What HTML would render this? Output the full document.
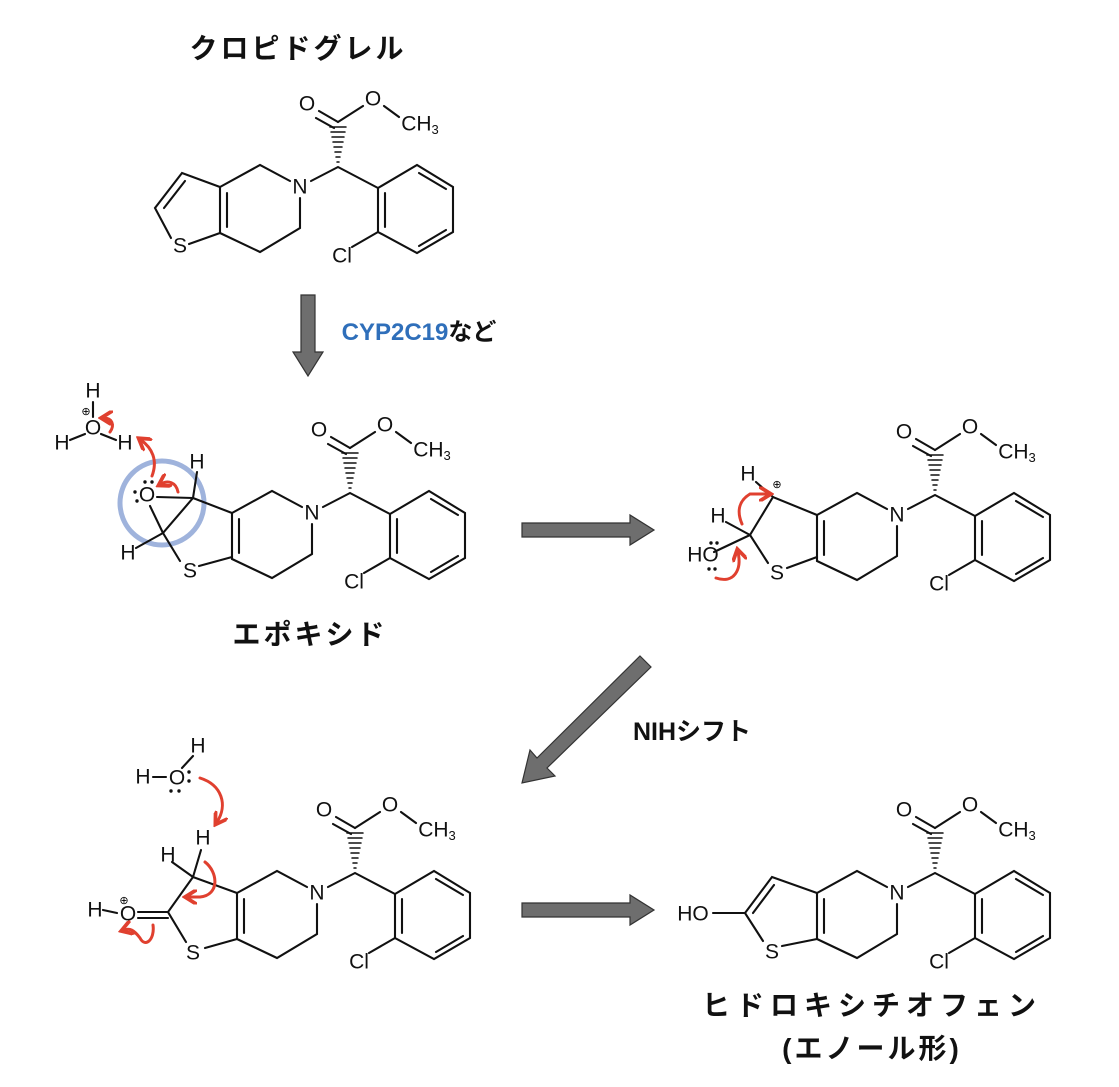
<!DOCTYPE html>
<html><head><meta charset="utf-8"><style>
html,body{margin:0;padding:0;background:#fff}
svg{display:block}
.b{stroke:#111;stroke-width:2.1;fill:none;stroke-linecap:round}
.t{font-family:"Liberation Sans",sans-serif;font-size:21px;fill:#111;text-anchor:middle;dominant-baseline:central}
.j{font-family:"Liberation Sans","Noto Sans CJK JP",sans-serif;font-weight:bold;font-size:28px;fill:#111;text-anchor:middle}
.r{stroke:#e0402f;stroke-width:3;fill:none;stroke-linecap:round}
.a{fill:#6e6e6e;stroke:#333;stroke-width:1.2}
</style></head><body>
<svg width="1119" height="1087" viewBox="0 0 1119 1087" xmlns="http://www.w3.org/2000/svg">
<defs>
<marker id="rh" viewBox="0 0 10 10" refX="6" refY="5" markerWidth="5" markerHeight="5" orient="auto"><path d="M0,0 L8,5 L0,10" fill="none" stroke="#e0402f" stroke-width="2.5"/></marker>
</defs>

<text class="j" x="298" y="58" style="letter-spacing:3px">クロピドグレル</text>
<text class="j" x="419" y="340" style="font-size:24px"><tspan fill="#2f6fba">CYP2C19</tspan>など</text>
<text class="j" x="310" y="644" style="letter-spacing:3px">エポキシド</text>
<text class="j" x="692" y="740" style="font-size:25px">NIHシフト</text>
<text class="j" x="872" y="1015" style="letter-spacing:6px">ヒドロキシチオフェン</text>
<text class="j" x="872" y="1058" style="letter-spacing:3px">(エノール形)</text>

<path class="a" d="M301,295 L315,295 L315,352 L323,352 L308,376 L293,352 L301,352 Z"/>
<path class="a" d="M522,523 L630,523 L630,515 L654,530 L630,545 L630,537 L522,537 Z"/>
<path class="a" d="M522,903 L630,903 L630,895 L654,910 L630,925 L630,917 L522,917 Z"/>
<path class="a" d="M640,656 L651,667 L547,768 L555,776 L522,783 L530,750 L537,758 Z"/>

<g>
<g class="b">
<path d="M220,187 L260,165 L290,181"/>
<path d="M300,198 L300,228 L260,252 L220,233"/>
<path d="M220,187 L220,233 M227,193 L227,227"/>
<path d="M311,181 L338,167 L378,188"/>
<path d="M338,122 L319,111 M334,128 L316,118"/>
<path d="M338,122 L363,106 M384,106 L399,117"/>
<path d="M378,188 L417,165 L453,187 L453,232 L417,253 L378,232 Z"/>
<path d="M385,193 L385,227 M419,173 L446,189 M446,230 L419,246"/>
<path d="M378,232 L352,247"/>
<path d="M337,162h2M336,157h4M335,152h6M334,147h8M333,142h10M332,137h12M331,132h14M330,127h16" stroke-width="1.5"/>
</g>
<text class="t" x="300" y="187">N</text>
<text class="t" x="307" y="104">O</text>
<text class="t" x="373" y="99">O</text>
<text class="t" x="420" y="124">CH<tspan font-size="13" dy="5">3</tspan></text>
<text class="t" x="342" y="256">Cl</text>
</g>
<g transform="translate(12,326)">
<g class="b">
<path d="M220,187 L260,165 L290,181"/><path d="M300,198 L300,228 L260,252 L220,233"/>
<path d="M220,187 L220,233 M227,193 L227,227"/><path d="M311,181 L338,167 L378,188"/>
<path d="M338,122 L319,111 M334,128 L316,118"/><path d="M338,122 L363,106 M384,106 L399,117"/>
<path d="M378,188 L417,165 L453,187 L453,232 L417,253 L378,232 Z"/>
<path d="M385,193 L385,227 M419,173 L446,189 M446,230 L419,246"/><path d="M378,232 L352,247"/>
<path d="M337,162h2M336,157h4M335,152h6M334,147h8M333,142h10M332,137h12M331,132h14M330,127h16" stroke-width="1.5"/>
</g>
<text class="t" x="300" y="187">N</text><text class="t" x="307" y="104">O</text><text class="t" x="373" y="99">O</text>
<text class="t" x="420" y="124">CH<tspan font-size="13" dy="5">3</tspan></text><text class="t" x="342" y="256">Cl</text>
</g>
<g transform="translate(597,328)">
<g class="b">
<path d="M220,187 L260,165 L290,181"/><path d="M300,198 L300,228 L260,252 L220,233"/>
<path d="M220,187 L220,233 M227,193 L227,227"/><path d="M311,181 L338,167 L378,188"/>
<path d="M338,122 L319,111 M334,128 L316,118"/><path d="M338,122 L363,106 M384,106 L399,117"/>
<path d="M378,188 L417,165 L453,187 L453,232 L417,253 L378,232 Z"/>
<path d="M385,193 L385,227 M419,173 L446,189 M446,230 L419,246"/><path d="M378,232 L352,247"/>
<path d="M337,162h2M336,157h4M335,152h6M334,147h8M333,142h10M332,137h12M331,132h14M330,127h16" stroke-width="1.5"/>
</g>
<text class="t" x="300" y="187">N</text><text class="t" x="307" y="104">O</text><text class="t" x="373" y="99">O</text>
<text class="t" x="420" y="124">CH<tspan font-size="13" dy="5">3</tspan></text><text class="t" x="342" y="256">Cl</text>
</g>
<g transform="translate(17,706)">
<g class="b">
<path d="M220,187 L260,165 L290,181"/><path d="M300,198 L300,228 L260,252 L220,233"/>
<path d="M220,187 L220,233 M227,193 L227,227"/><path d="M311,181 L338,167 L378,188"/>
<path d="M338,122 L319,111 M334,128 L316,118"/><path d="M338,122 L363,106 M384,106 L399,117"/>
<path d="M378,188 L417,165 L453,187 L453,232 L417,253 L378,232 Z"/>
<path d="M385,193 L385,227 M419,173 L446,189 M446,230 L419,246"/><path d="M378,232 L352,247"/>
<path d="M337,162h2M336,157h4M335,152h6M334,147h8M333,142h10M332,137h12M331,132h14M330,127h16" stroke-width="1.5"/>
</g>
<text class="t" x="300" y="187">N</text><text class="t" x="307" y="104">O</text><text class="t" x="373" y="99">O</text>
<text class="t" x="420" y="124">CH<tspan font-size="13" dy="5">3</tspan></text><text class="t" x="342" y="256">Cl</text>
</g>
<g transform="translate(597,706)">
<g class="b">
<path d="M220,187 L260,165 L290,181"/><path d="M300,198 L300,228 L260,252 L220,233"/>
<path d="M220,187 L220,233 M227,193 L227,227"/><path d="M311,181 L338,167 L378,188"/>
<path d="M338,122 L319,111 M334,128 L316,118"/><path d="M338,122 L363,106 M384,106 L399,117"/>
<path d="M378,188 L417,165 L453,187 L453,232 L417,253 L378,232 Z"/>
<path d="M385,193 L385,227 M419,173 L446,189 M446,230 L419,246"/><path d="M378,232 L352,247"/>
<path d="M337,162h2M336,157h4M335,152h6M334,147h8M333,142h10M332,137h12M331,132h14M330,127h16" stroke-width="1.5"/>
</g>
<text class="t" x="300" y="187">N</text><text class="t" x="307" y="104">O</text><text class="t" x="373" y="99">O</text>
<text class="t" x="420" y="124">CH<tspan font-size="13" dy="5">3</tspan></text><text class="t" x="342" y="256">Cl</text>
</g>

<g class="b">
<path d="M220,187 L182,173 L155,208 L171,238 M189,244 L220,233"/>
<path d="M185,181 L164,208"/>
</g>
<text class="t" x="180" y="246">S</text>

<circle cx="162" cy="503" r="42" fill="none" stroke="#9fb3dc" stroke-width="5"/>
<g class="b">
<path d="M232,513 L193,498 L163,533 L180,561 M199,566 L232,557"/>
<path d="M193,498 L157,497 M163,533 L150,506"/>
<path d="M193,498 L197,472 M163,533 L136,548"/>
<path d="M93,402 L93,417 M85,434 L70,440 M101,434 L116,440"/>
</g>
<text class="t" x="190" y="571">S</text>
<text class="t" x="147" y="495">O</text>
<text class="t" x="197" y="462">H</text>
<text class="t" x="128" y="553">H</text>
<text class="t" x="93" y="391">H</text>
<text class="t" x="93" y="428">O</text>
<text class="t" x="62" y="443">H</text>
<text class="t" x="125" y="443">H</text>
<text x="86" y="415" font-size="11" text-anchor="middle" font-family="Liberation Sans,sans-serif">⊕</text>
<g fill="#111"><circle cx="145" cy="482" r="1.7"/><circle cx="152" cy="482" r="1.7"/><circle cx="135" cy="492" r="1.7"/><circle cx="137" cy="501" r="1.7"/></g>
<path class="r" d="M152,476 C158,460 152,448 141,440" marker-end="url(#rh)"/>
<path class="r" d="M178,492 C176,482 168,480 161,484" marker-end="url(#rh)"/>
<path class="r" d="M110,432 C115,425 112,418 104,418" marker-end="url(#rh)"/>

<g class="b">
<path d="M817,515 L773,497 L750,535 L768,563 M787,568 L817,557"/>
<path d="M773,497 L756,482 M750,535 L726,522 M750,535 L714,552"/>
</g>
<text class="t" x="777" y="573">S</text>
<text class="t" x="748" y="474">H</text>
<text class="t" x="718" y="516">H</text>
<text class="t" x="703" y="555">HO</text>
<text x="777" y="488" font-size="11" text-anchor="middle" font-family="Liberation Sans,sans-serif">⊕</text>
<g fill="#111"><circle cx="711" cy="543" r="1.7"/><circle cx="717" cy="543" r="1.7"/><circle cx="709" cy="569" r="1.7"/><circle cx="715" cy="569" r="1.7"/></g>
<path class="r" d="M742,524 C736,510 740,500 750,494 L768,494" marker-end="url(#rh)"/>
<path class="r" d="M716,578 C734,584 742,570 738,552" marker-end="url(#rh)"/>

<g class="b">
<path d="M237,893 L193,877 L168,912 L186,942 M205,948 L237,939"/>
<path d="M168,912 L138,912 M168,918 L138,918"/>
<path d="M193,877 L172,862 M193,877 L201,850"/>
<path d="M103,910 L117,913"/>
<path d="M153,777 L166,777 M182,768 L193,756"/>
</g>
<text class="t" x="193" y="953">S</text>
<text class="t" x="128" y="914">O</text>
<text class="t" x="95" y="910">H</text>
<text class="t" x="168" y="855">H</text>
<text class="t" x="203" y="838">H</text>
<text class="t" x="143" y="777">H</text>
<text class="t" x="177" y="778">O</text>
<text class="t" x="198" y="746">H</text>
<text x="124" y="904" font-size="11" text-anchor="middle" font-family="Liberation Sans,sans-serif">⊕</text>
<g fill="#111"><circle cx="189" cy="772" r="1.7"/><circle cx="189" cy="781" r="1.7"/><circle cx="171" cy="791" r="1.7"/><circle cx="179" cy="791" r="1.7"/></g>
<path class="r" d="M200,778 C222,785 228,805 217,822" marker-end="url(#rh)"/>
<path class="r" d="M205,862 C218,872 220,895 200,897 L188,897" marker-end="url(#rh)"/>
<path class="r" d="M153,925 C155,940 145,948 140,938 C134,930 130,928 124,930" marker-end="url(#rh)"/>

<g class="b">
<path d="M817,893 L772,877 L745,913 L763,941 M782,946 L817,939"/>
<path d="M774,885 L753,913"/>
<path d="M745,913 L713,913"/>
</g>
<text class="t" x="772" y="952">S</text>
<text class="t" x="693" y="914">HO</text>
</svg>
</body></html>
